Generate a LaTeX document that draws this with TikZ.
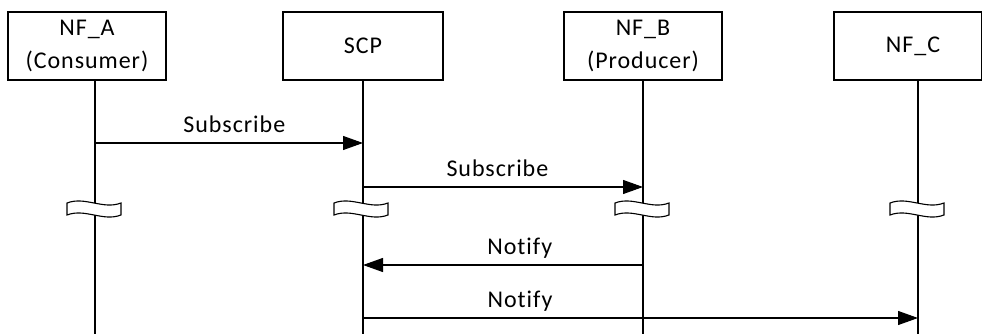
\documentclass[tikz,border=0pt]{standalone}
\usepackage{fontspec}
\setmainfont{Carlito}[LetterSpace=4,Ligatures={NoCommon,NoContextual}]
\usetikzlibrary{arrows.meta}

\begin{document}
\begin{tikzpicture}[x=1pt,y=-1pt]
\tikzset{
  entity/.style={rectangle,draw=black,line width=1.1pt,fill=white,minimum width=158pt,minimum height=68pt,inner sep=0pt,align=center,font=\fontsize{24}{33}\selectfont},
  lifeline/.style={draw=black,line width=1.1pt},
  message/.style={draw=black,line width=1.1pt,-{Triangle[length=20pt,width=14pt]}},
  msglabel/.style={inner sep=0pt,anchor=base,font=\fontsize{24}{28}\selectfont},
  gap/.pic={
    \draw[line width=1.1pt,fill=white] (-27,-6) .. controls (-9,-13) and (9,1) .. (27,-6)
      -- (27,6) .. controls (9,13) and (-9,-1) .. (-27,6) -- cycle;
  }
}
\useasboundingbox (0,0) rectangle (982,334);
% entities
\node[entity] (n_A) at (87,46) {NF\_A\\(Consumer)};
\node[entity,minimum width=160pt] (n_SCP) at (363,46) {SCP};
\node[entity] (n_B) at (643,46) {NF\_B\\(Producer)};
\node[entity,minimum width=148pt] (n_C) at (908,46) {\hspace*{10pt}NF\_C};
% lifelines
\coordinate (e_A) at (95,334);
\coordinate (e_SCP) at (363,334);
\coordinate (e_B) at (643,334);
\coordinate (e_C) at (918,334);
\draw[lifeline] (n_A.south -| e_A) -- (e_A);
\draw[lifeline] (n_SCP.south -| e_SCP) -- (e_SCP);
\draw[lifeline] (n_B.south -| e_B) -- (e_B);
\draw[lifeline] (n_C.south -| e_C) -- (e_C);
% breaks
\pic at (94,209) {gap};
\pic at (361,209) {gap};
\pic at (642,209) {gap};
\pic at (917,209) {gap};
% messages
\coordinate (m1_s) at (95,143);
\coordinate (m1_e) at (363,143);
\coordinate (m2_s) at (363,187);
\coordinate (m2_e) at (643,187);
\coordinate (m3_s) at (643,265);
\coordinate (m3_e) at (363,265);
\coordinate (m4_s) at (363,318);
\coordinate (m4_e) at (918,318);
\draw[message] (m1_s) -- node[msglabel,pos=0.52,yshift=11pt] {Subscribe} (m1_e);
\draw[message] (m2_s) -- node[msglabel,pos=0.48,yshift=11pt] {Subscribe} (m2_e);
\draw[message] (m3_s) -- node[msglabel,pos=0.44,yshift=11pt] {Notify} (m3_e);
\draw[message] (m4_s) -- node[msglabel,pos=0.283,yshift=11pt] {Notify} (m4_e);
\end{tikzpicture}
\end{document}
